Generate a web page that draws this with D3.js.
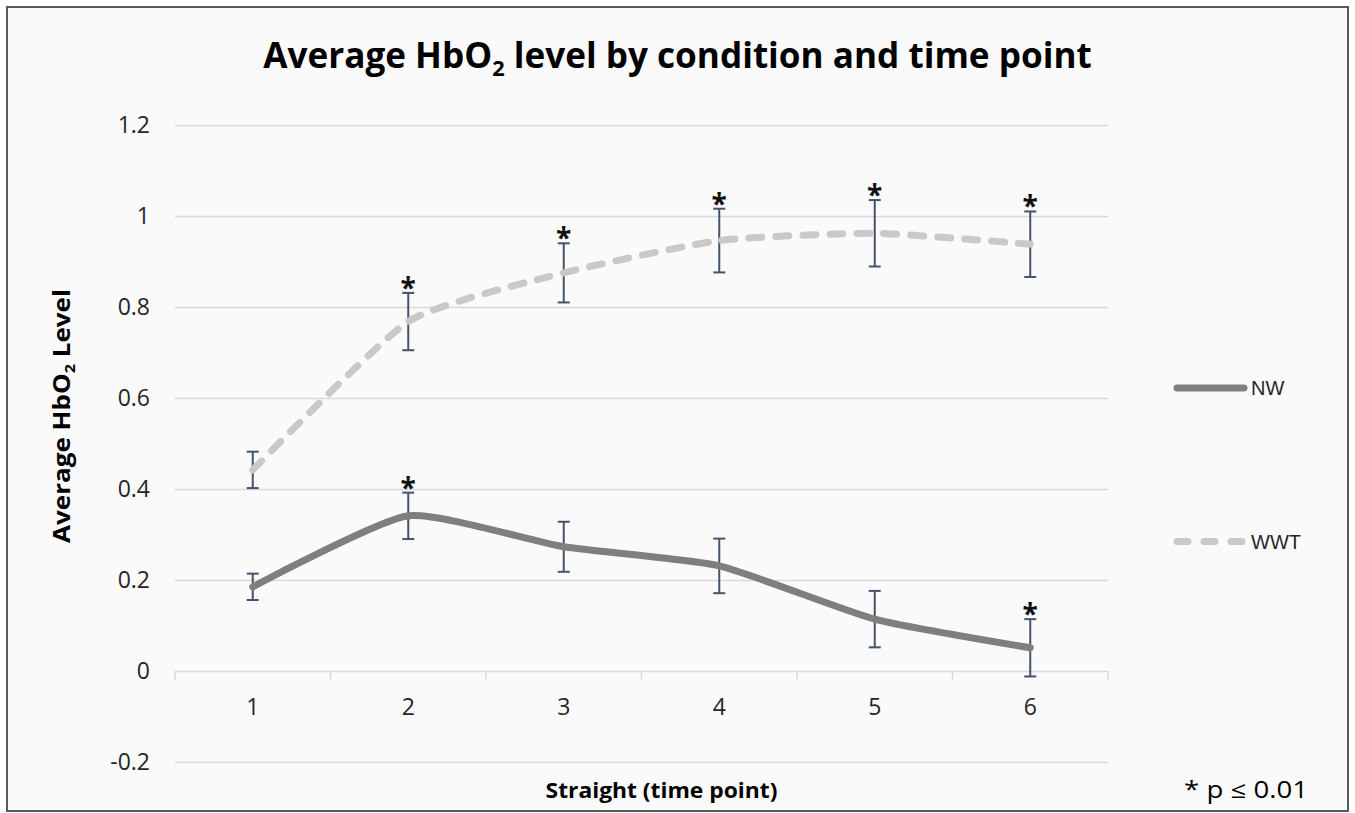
<!DOCTYPE html>
<html>
  <head>
    <meta charset="utf-8">
    <title>Average HbO2 level</title>
    <style media="screen">
      body {margin:0; background:#fff}
      text {font-family:"Open Sans", sans-serif}
    </style>
  </head>
  <body>
    <script src="https://cdn.jsdelivr.net/npm/d3@7"></script>
    <script type="text/javascript">

    // values
    const timePoints = ['1', '2', '3', '4', '5', '6']
    const yTicks = [-0.2, 0, 0.2, 0.4, 0.6, 0.8, 1, 1.2]

    const nwMean = [0.185, 0.341, 0.273, 0.231, 0.114, 0.051]
    const nwErr  = [0.029, 0.051, 0.055, 0.060, 0.062, 0.063]
    const nwSig  = [false, true, false, false, false, true]

    const wwtMean = [0.442, 0.768, 0.875, 0.946, 0.962, 0.938]
    const wwtErr  = [0.040, 0.063, 0.065, 0.070, 0.073, 0.072]
    const wwtSig  = [false, true, true, true, true, true]

    const seriesNames = ['NW', 'WWT']

    const W = 1355, H = 813

    const svg = d3.select('body').append('svg')
      .attr('width', W)
      .attr('height', H)

    // frame
    svg.append('rect')
      .attr('x', 7).attr('y', 7)
      .attr('width', 1341).attr('height', 804)
      .attr('fill', '#fafafa')
      .attr('stroke', '#5a5a5a')
      .attr('stroke-width', 2)

    const x = d3.scaleBand().domain(timePoints).range([175, 1108])
    const y = d3.scaleLinear().domain([-0.2, 1.2]).range([762, 125])
    const cx = d => x(d) + x.bandwidth() / 2

    // gridlines + y labels
    const yAxis = d3.axisLeft(y).tickValues(yTicks)
      .tickSize(-(1108 - 175)).tickPadding(25)
      .tickFormat(d => String(+d.toFixed(1)))
    const gy = svg.append('g').attr('transform', 'translate(175,0)').call(yAxis)
    gy.select('.domain').remove()
    gy.selectAll('.tick line').attr('stroke', '#d9d9d9').attr('stroke-width', 1.5)
    gy.selectAll('.tick text')
      .attr('fill', '#262626')
      .attr('font-size', 23)
      .attr('font-family', '"Open Sans", sans-serif')
    gy.selectAll('.tick').filter(d => d === 0).select('line').remove()

    // x axis at zero
    const xAxis = d3.axisBottom(x).tickSize(0).tickPadding(28)
    const gx = svg.append('g').attr('transform', `translate(0,${y(0)})`).call(xAxis)
    gx.select('.domain').attr('stroke', '#d6dce5').attr('stroke-width', 1.5)
    gx.selectAll('.tick text')
      .attr('fill', '#262626')
      .attr('font-size', 23)
      .attr('font-family', '"Open Sans", sans-serif')
    svg.append('g').selectAll('line')
      .data(d3.range(timePoints.length + 1))
      .join('line')
      .attr('x1', i => 175 + i * x.bandwidth())
      .attr('x2', i => 175 + i * x.bandwidth())
      .attr('y1', y(0)).attr('y2', y(0) + 9)
      .attr('stroke', '#d6dce5').attr('stroke-width', 1.5)

    const series = [
      {name: seriesNames[0], mean: nwMean, err: nwErr, sig: nwSig, color: '#7f7f7f', dash: null},
      {name: seriesNames[1], mean: wwtMean, err: wwtErr, sig: wwtSig, color: '#c9c9c9', dash: '13 14'}
    ]

    // error bars
    series.forEach(s => {
      const g = svg.append('g').attr('stroke', '#44546a').attr('stroke-width', 2)
      timePoints.forEach((t, i) => {
        const hi = y(s.mean[i] + s.err[i]), lo = y(s.mean[i] - s.err[i])
        g.append('line').attr('x1', cx(t)).attr('x2', cx(t)).attr('y1', hi).attr('y2', lo)
        g.append('line').attr('x1', cx(t) - 6).attr('x2', cx(t) + 6).attr('y1', hi).attr('y2', hi)
        g.append('line').attr('x1', cx(t) - 6).attr('x2', cx(t) + 6).attr('y1', lo).attr('y2', lo)
      })
    })

    // lines (excel-style light smoothing)
    const line = d3.line()
      .x((d, i) => cx(timePoints[i]))
      .y(d => y(d))
      .curve(d3.curveCardinal.tension(0.45))

    series.forEach(s => {
      svg.append('path')
        .attr('d', line(s.mean))
        .attr('fill', 'none')
        .attr('stroke', s.color)
        .attr('stroke-width', 7)
        .attr('stroke-linecap', 'round')
        .attr('stroke-linejoin', 'round')
        .attr('stroke-dasharray', s.dash)
    })

    // significance stars
    series.forEach(s => {
      timePoints.forEach((t, i) => {
        if (!s.sig[i]) return
        svg.append('text')
          .attr('x', cx(t)).attr('y', y(s.mean[i] + s.err[i]) + 5)
          .attr('text-anchor', 'middle')
          .style('font-size', '28px').style('font-weight', 700)
          .attr('fill', '#111')
          .text('*')
      })
    })

    // legend
    const legY = [388, 541.5]
    series.forEach((s, i) => {
      svg.append('line')
        .attr('x1', 1177).attr('x2', 1244)
        .attr('y1', legY[i]).attr('y2', legY[i])
        .attr('stroke', s.color).attr('stroke-width', 7)
        .attr('stroke-linecap', 'round')
        .attr('stroke-dasharray', s.dash ? '11 16' : null)
      svg.append('text')
        .attr('x', 1251).attr('y', legY[i] + 7)
        .style('font-family', '"Liberation Sans", Arial, sans-serif')
        .style('font-size', '20px')
        .attr('fill', '#262626')
        .text(s.name)
    })

    // text squeezed to the measured width, Calibri-ish
    function fitText(g, width) {
      const t = g.select('text')
      const w = t.node().getComputedTextLength()
      t.attr('transform', `scale(${width / w},1)`)
    }

    function subText(parent, before, after, size, weight) {
      const t = parent.append('text')
        .attr('text-anchor', 'middle')
        .style('font-size', size + 'px')
        .style('font-weight', weight)
        .attr('fill', '#000')
      t.append('tspan').text(before)
      t.append('tspan').attr('dy', size * 0.22).style('font-size', (size * 0.62) + 'px').text('2')
      t.append('tspan').attr('dy', -size * 0.22).text(after)
      return t
    }

    // title
    const gt = svg.append('g').attr('transform', 'translate(677.5,68)')
    subText(gt, 'Average HbO', ' level by condition and time point', 35, 700)
    fitText(gt, 829)

    // y axis title
    const gyl = svg.append('g').attr('transform', 'translate(70,416) rotate(-90)')
    subText(gyl, 'Average HbO', ' Level', 24, 700)
    fitText(gyl, 254)

    // x axis title
    const gxl = svg.append('g').attr('transform', 'translate(661.5,798)')
    gxl.append('text').attr('text-anchor', 'middle')
      .style('font-size', '22px').style('font-weight', 700)
      .attr('fill', '#000')
      .text('Straight (time point)')
    fitText(gxl, 232)

    // note
    const gn = svg.append('g').attr('transform', 'translate(1246,798)')
    gn.append('text').attr('text-anchor', 'middle')
      .style('font-size', '23px')
      .attr('fill', '#000')
      .text('* p ≤ 0.01')
    fitText(gn, 124)

    </script>
  </body>
</html>
